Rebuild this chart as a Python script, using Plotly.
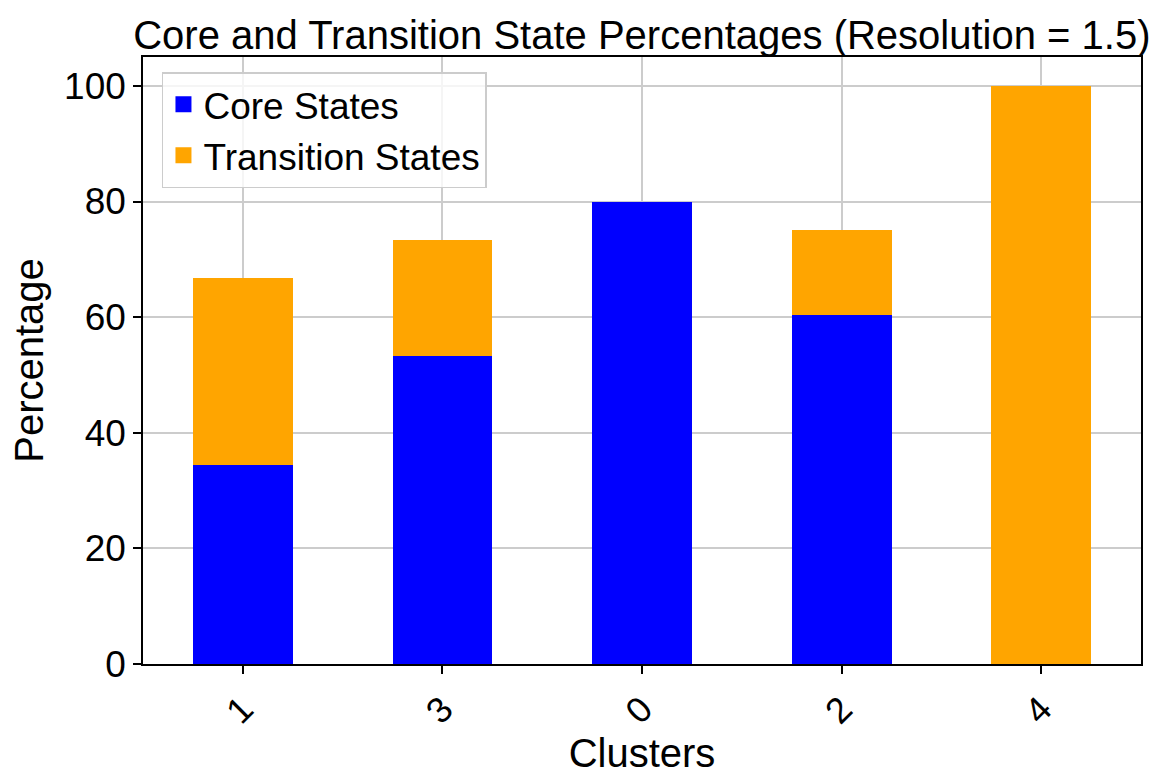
import plotly.graph_objects as go

clusters = ["1", "3", "0", "2", "4"]
core_states = [34.4, 53.3, 80.0, 60.4, 0.0]
transition_states = [32.4, 20.1, 0.0, 14.7, 100.0]
y_ticks = [0, 20, 40, 60, 80, 100]
series_names = ["Core States", "Transition States"]
series_colors = ["#0000ff", "#ffa500"]

FONT = "Liberation Sans, Arial, sans-serif"

fig = go.Figure()
for name, vals, col in zip(series_names, [core_states, transition_states], series_colors):
    fig.add_trace(go.Bar(x=clusters, y=vals, name=name, showlegend=False,
                         marker=dict(color=col, line=dict(width=0)), width=0.5))
# legend proxies with larger square swatches
for name, col in zip(series_names, series_colors):
    fig.add_trace(go.Scatter(x=[None], y=[None], mode="markers", name=name,
                             marker=dict(symbol="square", size=21, color=col)))

fig.update_layout(
    barmode="stack",
    width=1167, height=783,
    margin=dict(l=143, r=26, t=57, b=119),
    paper_bgcolor="white", plot_bgcolor="white",
    font=dict(family=FONT, size=36, color="black"),
    title=dict(text="Core and Transition State Percentages (Resolution = 1.5)",
               x=0.55, xanchor="center", y=0.955, yanchor="middle",
               font=dict(size=40, family=FONT, color="black")),
    legend=dict(x=0.019, y=0.975, xanchor="left", yanchor="top",
                bgcolor="rgba(255,255,255,0.8)", bordercolor="#cccccc", borderwidth=1.5,
                font=dict(size=37, family=FONT), itemsizing="trace",
                traceorder="normal", tracegroupgap=0, itemwidth=30),
    showlegend=True,
)
fig.update_xaxes(
    type="category", range=[-0.5, 4.5],
    title=dict(text="Clusters", font=dict(size=40), standoff=2),
    tickangle=-45, ticks="outside", ticklen=8, tickcolor="black", tickwidth=1.5,
    showgrid=True, gridcolor="#cccccc", gridwidth=1.5,
    showline=True, linecolor="black", linewidth=1.5, mirror=True,
    tickfont=dict(size=36),
)
fig.update_yaxes(
    range=[0, 105], tickvals=y_ticks,
    title=dict(text="Percentage", font=dict(size=40), standoff=8),
    ticks="outside", ticklen=8, tickcolor="black", tickwidth=1.5,
    showgrid=True, gridcolor="#cccccc", gridwidth=1.5,
    showline=True, linecolor="black", linewidth=1.5, mirror=True,
    zeroline=False, tickfont=dict(size=37),
)
fig.write_html("out.html")
